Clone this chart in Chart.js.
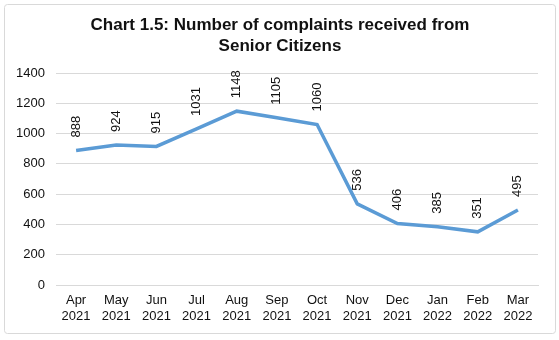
<!DOCTYPE html>
<html>
<head>
<meta charset="utf-8">
<script src="https://cdn.jsdelivr.net/npm/chart.js@4/dist/chart.umd.min.js"></script>
<style>
  body { margin: 0; background: #fff; }
  #wrap { position: relative; width: 559px; height: 340px; }
</style>
</head>
<body>
<div id="wrap"><canvas id="myChart" width="559" height="340"></canvas></div>
<script>
// data
const months = ["Apr", "May", "Jun", "Jul", "Aug", "Sep", "Oct", "Nov", "Dec", "Jan", "Feb", "Mar"];
const years = ["2021", "2021", "2021", "2021", "2021", "2021", "2021", "2021", "2021", "2022", "2022", "2022"];
const complaints = [888, 924, 915, 1031, 1148, 1105, 1060, 536, 406, 385, 351, 495];
const yTicks = [0, 200, 400, 600, 800, 1000, 1200, 1400];
const titleLines = ['Chart 1.5: Number of complaints received from', 'Senior Citizens'];

const labels = months.map((m, i) => [m, years[i]]);
const FONT = '"Liberation Sans", Arial, sans-serif';

// gray frame round the whole chart, plus the title centred on the frame
const frame = {
    id: 'frame',
    beforeDraw(chart) {
        const c = chart.ctx;
        c.save();
        c.strokeStyle = '#d9d9d9';
        c.lineWidth = 1;
        c.beginPath();
        c.roundRect(4.5, 4.5, 551, 329, 3);
        c.stroke();
        c.fillStyle = '#111';
        c.font = 'bold 17px ' + FONT;
        c.textAlign = 'center';
        c.textBaseline = 'middle';
        c.fillText(titleLines[0], 280, 25);
        c.fillText(titleLines[1], 280, 46);
        c.restore();
    }
};

// values written upright above each point
const valueLabels = {
    id: 'valueLabels',
    afterDatasetsDraw(chart) {
        const c = chart.ctx;
        const meta = chart.getDatasetMeta(0);
        c.save();
        c.font = '13px ' + FONT;
        c.fillStyle = '#111';
        c.textAlign = 'left';
        c.textBaseline = 'middle';
        meta.data.forEach((pt, i) => {
            c.save();
            c.translate(pt.x, pt.y - 13);
            c.rotate(-Math.PI / 2);
            c.fillText(String(complaints[i]), 0, 0);
            c.restore();
        });
        c.restore();
    }
};

const ctx = document.getElementById('myChart').getContext('2d');
const chart = new Chart(ctx, {
    type: 'line',
    data: {
        labels: labels,
        datasets: [{
            data: complaints,
            borderColor: '#5b9bd5',
            borderWidth: 3.5,
            pointRadius: 0,
            tension: 0,
            fill: false
        }]
    },
    options: {
        responsive: false,
        animation: false,
        layout: { padding: { left: 0, right: 21, top: 73, bottom: 7 } },
        plugins: {
            legend: { display: false },
            tooltip: { enabled: false },
            title: { display: false }
        },
        scales: {
            x: {
                offset: true,
                grid: { display: false, drawTicks: false },
                border: { color: '#d9d9d9' },
                ticks: {
                    color: '#111',
                    padding: 8,
                    maxRotation: 0,
                    autoSkip: false,
                    font: { family: FONT, size: 13, lineHeight: 1.2 }
                },
                afterFit(scale) { scale.height = 48; }
            },
            y: {
                min: 0,
                max: 1400,
                grid: { color: '#d9d9d9', drawTicks: false },
                border: { display: false },
                afterBuildTicks(scale) { scale.ticks = yTicks.map(v => ({ value: v })); },
                ticks: {
                    color: '#111',
                    padding: 11,
                    font: { family: FONT, size: 13 },
                    callback: (v) => String(v)
                },
                afterFit(scale) { scale.width = 56; }
            }
        }
    },
    plugins: [frame, valueLabels]
});
</script>
</body>
</html>
